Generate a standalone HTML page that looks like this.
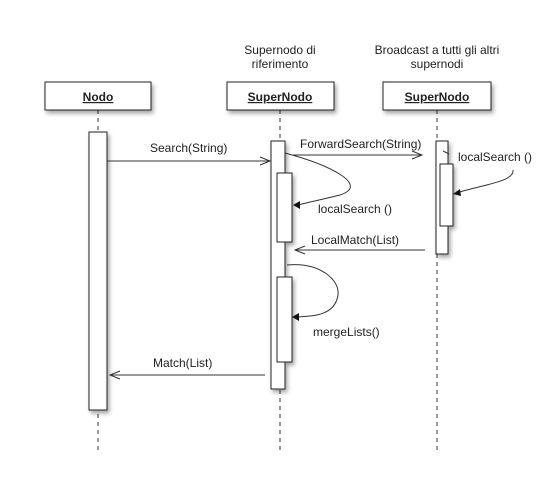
<!DOCTYPE html>
<html><head><style>body{margin:0;background:#fff}svg{display:block}text{font-family:"Liberation Sans",sans-serif;font-size:12px;fill:#222}</style></head><body>
<svg width="559" height="500" viewBox="0 0 559 500">
<defs>
<filter id="s" x="-30%" y="-30%" width="160%" height="160%"><feDropShadow dx="2" dy="3" stdDeviation="2" flood-color="#000" flood-opacity="0.35"/></filter>
</defs>
<g stroke="#333" stroke-dasharray="4,4" stroke-width="1">
<line x1="98" y1="110" x2="98" y2="452"/>
<line x1="280" y1="110" x2="280" y2="452"/>
<line x1="437" y1="110" x2="437" y2="452"/>
</g>
<g fill="#fff" stroke="#222" stroke-width="1" filter="url(#s)">
<rect x="45" y="82" width="106" height="28"/>
<rect x="227" y="82" width="107" height="28"/>
<rect x="383" y="82" width="108" height="28"/>
<rect x="89" y="132" width="18" height="278"/>
<rect x="271" y="141" width="14" height="248"/>
<rect x="277" y="173" width="15" height="69"/>
<rect x="277" y="277" width="15" height="85"/>
<rect x="436" y="141" width="12" height="113"/>
<rect x="440" y="164" width="13" height="62"/>
</g>
<g text-anchor="middle">
<text x="98" y="101" style="font-weight:bold;text-decoration:underline">Nodo</text>
<text x="280" y="101" style="font-weight:bold;text-decoration:underline">SuperNodo</text>
<text x="437" y="101" style="font-weight:bold;text-decoration:underline">SuperNodo</text>
</g>
<text x="280" y="54" text-anchor="middle">Supernodo di</text>
<text x="280" y="68" text-anchor="middle">riferimento</text>
<text x="437" y="54" text-anchor="middle">Broadcast a tutti gli altri</text>
<text x="437" y="68" text-anchor="middle">supernodi</text>
<g stroke="#333" fill="none" stroke-width="1">
<line x1="107" y1="161" x2="270" y2="161"/><polyline points="260,157 270,161 260,165"/>
<line x1="293" y1="155" x2="422" y2="155"/><polyline points="412,151 422,155 412,159"/>
<line x1="425" y1="250" x2="295" y2="250"/><polyline points="305,246 295,250 305,254"/>
<line x1="265" y1="375" x2="110" y2="375"/><polyline points="120,371 110,375 120,379"/>
<path d="M285,153 C330,165 370,185 340,195 C320,200 305,203 298,205"/>
<path d="M513,170 C515,182 480,185 457,193"/>
<path d="M443,151 L449,154"/>
<path d="M287,265 C320,262 340,280 338,295 C335,315 315,316 298,317"/>
</g>
<g fill="#111">
<polygon points="293,205 300,201 300,209"/>
<polygon points="453,194 460,189 461,196"/>
<polygon points="292,317 299,313 299,321"/>
</g>
<text x="150" y="152">Search(String)</text>
<text x="300" y="148">ForwardSearch(String)</text>
<text x="318" y="213">localSearch ()</text>
<text x="458" y="161">localSearch ()</text>
<text x="311" y="244">LocalMatch(List)</text>
<text x="313" y="336">mergeLists()</text>
<text x="153" y="367">Match(List)</text>
</svg>
</body></html>
